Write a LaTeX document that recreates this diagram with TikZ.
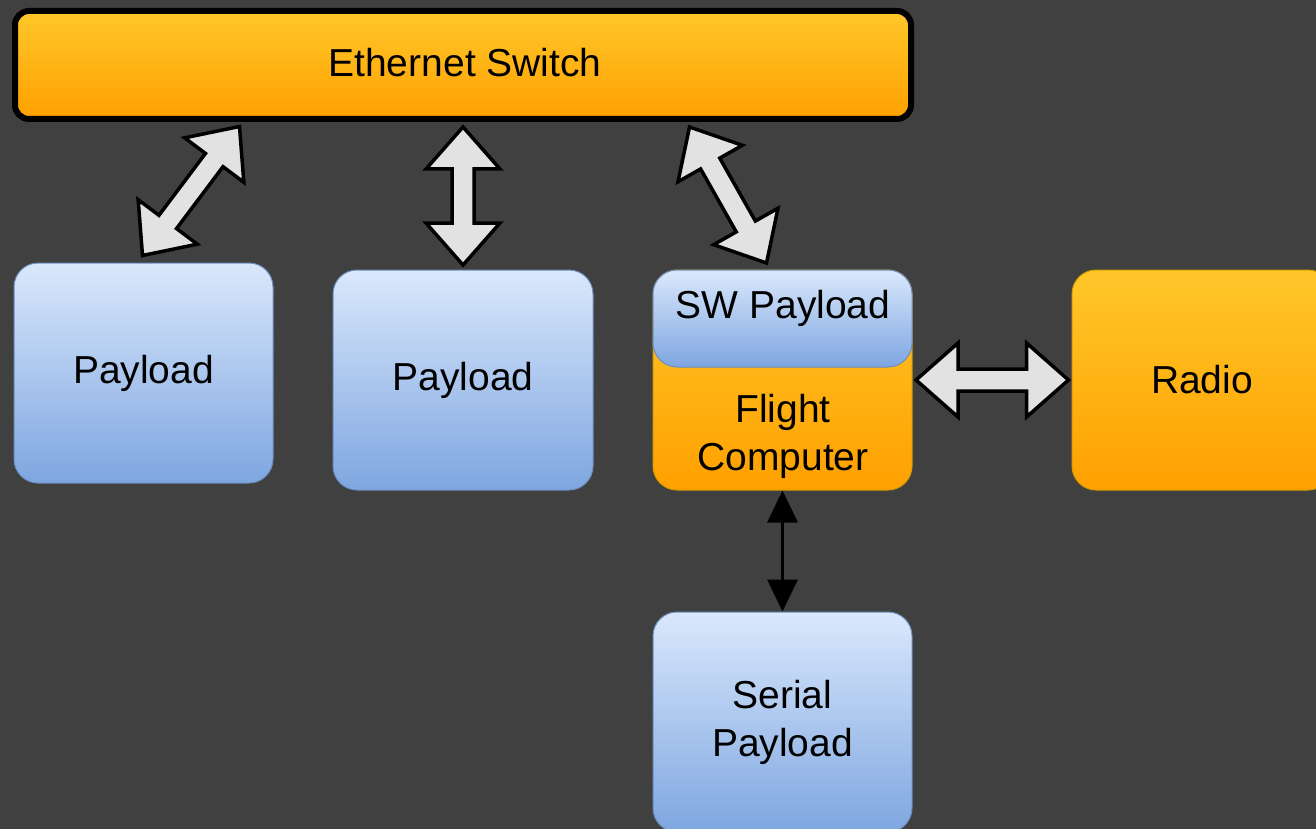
\documentclass[tikz,border=0pt]{standalone}
\usepackage{fontspec}
\setmainfont{Liberation Sans}
\usetikzlibrary{calc,arrows.meta}
\definecolor{bg}{HTML}{404040}
\definecolor{orTop}{HTML}{FFC72A}
\definecolor{orBot}{HTML}{FFA000}
\definecolor{orLine}{HTML}{D79B00}
\definecolor{blTop}{HTML}{DAE8FC}
\definecolor{blBot}{HTML}{7EA6E0}
\definecolor{blLine}{HTML}{6C8EBF}
\definecolor{arrFill}{HTML}{E2E2E2}
\tikzset{
  box/.style={rectangle, rounded corners=24pt, line width=1pt, inner sep=0pt,
    font=\fontsize{39}{48}\selectfont, align=center, text=black},
  bluebox/.style={box, draw=blLine, top color=blTop, bottom color=blBot},
  orangebox/.style={box, draw=orLine, top color=orTop, bottom color=orBot},
  lbl/.style={font=\fontsize{39}{48}\selectfont, align=center, text=black, inner sep=0pt},
  blkarrow/.style={fill=arrFill, draw=black, line width=3.5pt, line join=miter},
  thinarrow/.style={draw=black, line width=3.5pt, {Triangle[width=30pt,length=32pt]}-{Triangle[width=30pt,length=32pt]}}
}
\newcommand{\blockarrow}[2]{%
  \draw[blkarrow] (#1)
    -- ($(#1)!42pt!(#2)!37pt!90:(#2)$)
    -- ($(#1)!42pt!(#2)!11pt!90:(#2)$)
    -- ($(#2)!42pt!(#1)!11pt!-90:(#1)$)
    -- ($(#2)!42pt!(#1)!37pt!-90:(#1)$)
    -- (#2)
    -- ($(#2)!42pt!(#1)!37pt!90:(#1)$)
    -- ($(#2)!42pt!(#1)!11pt!90:(#1)$)
    -- ($(#1)!42pt!(#2)!11pt!-90:(#2)$)
    -- ($(#1)!42pt!(#2)!37pt!-90:(#2)$)
    -- cycle;}
\begin{document}
\begin{tikzpicture}[x=1pt, y=-1pt]
\useasboundingbox (0,0) rectangle (1316,829);
\fill[bg] (0,0) rectangle (1316,829);

% Ethernet switch
\node[box, rounded corners=14pt, draw=black, line width=6pt, top color=orTop, bottom color=orBot,
  minimum width=896pt, minimum height=108pt] (eth) at (463,65) {};
\node[lbl] (ethl) at (465,63) {Ethernet Switch};

% Payloads
\node[bluebox, minimum width=259pt, minimum height=220pt] (p1) at (143.5,373) {Payload};
\node[bluebox, minimum width=260pt, minimum height=220pt] (p2) at (463,380) {Payload};

% Flight computer with SW payload
\node[orangebox, minimum width=259pt, minimum height=220pt] (fc) at (782.5,380) {};
\node[bluebox, minimum width=259pt, minimum height=97pt] (sw) at (782.5,318.5) {};
\node[lbl] (swl) at (783,308) {SW Payload};
\node[lbl] (fcl) at (783,436) {Flight\\Computer};

% Radio
\node[orangebox, minimum width=260pt, minimum height=220pt] (radio) at (1202,380) {Radio};

% Serial payload
\node[bluebox, minimum width=259pt, minimum height=220pt] (serial) at (782.5,722) {Serial\\Payload};

% Block arrow end points
\coordinate (a1t) at (239.5,126.5);
\coordinate (a1b) at (142.5,255.5);
\coordinate (a2t) at (463,127);
\coordinate (a2b) at (463,265);
\coordinate (a3t) at (689.5,127);
\coordinate (a3b) at (766.5,263);
\coordinate (a4l) at ($(fc.east)+(3.5,0)$);
\coordinate (a4r) at ($(radio.west)+(-3,0)$);

\blockarrow{a1t}{a1b}
\blockarrow{a2t}{a2b}
\blockarrow{a3t}{a3b}
\blockarrow{a4l}{a4r}

% Serial link
\draw[thinarrow] (fc.south) -- (serial.north);
\end{tikzpicture}
\end{document}
